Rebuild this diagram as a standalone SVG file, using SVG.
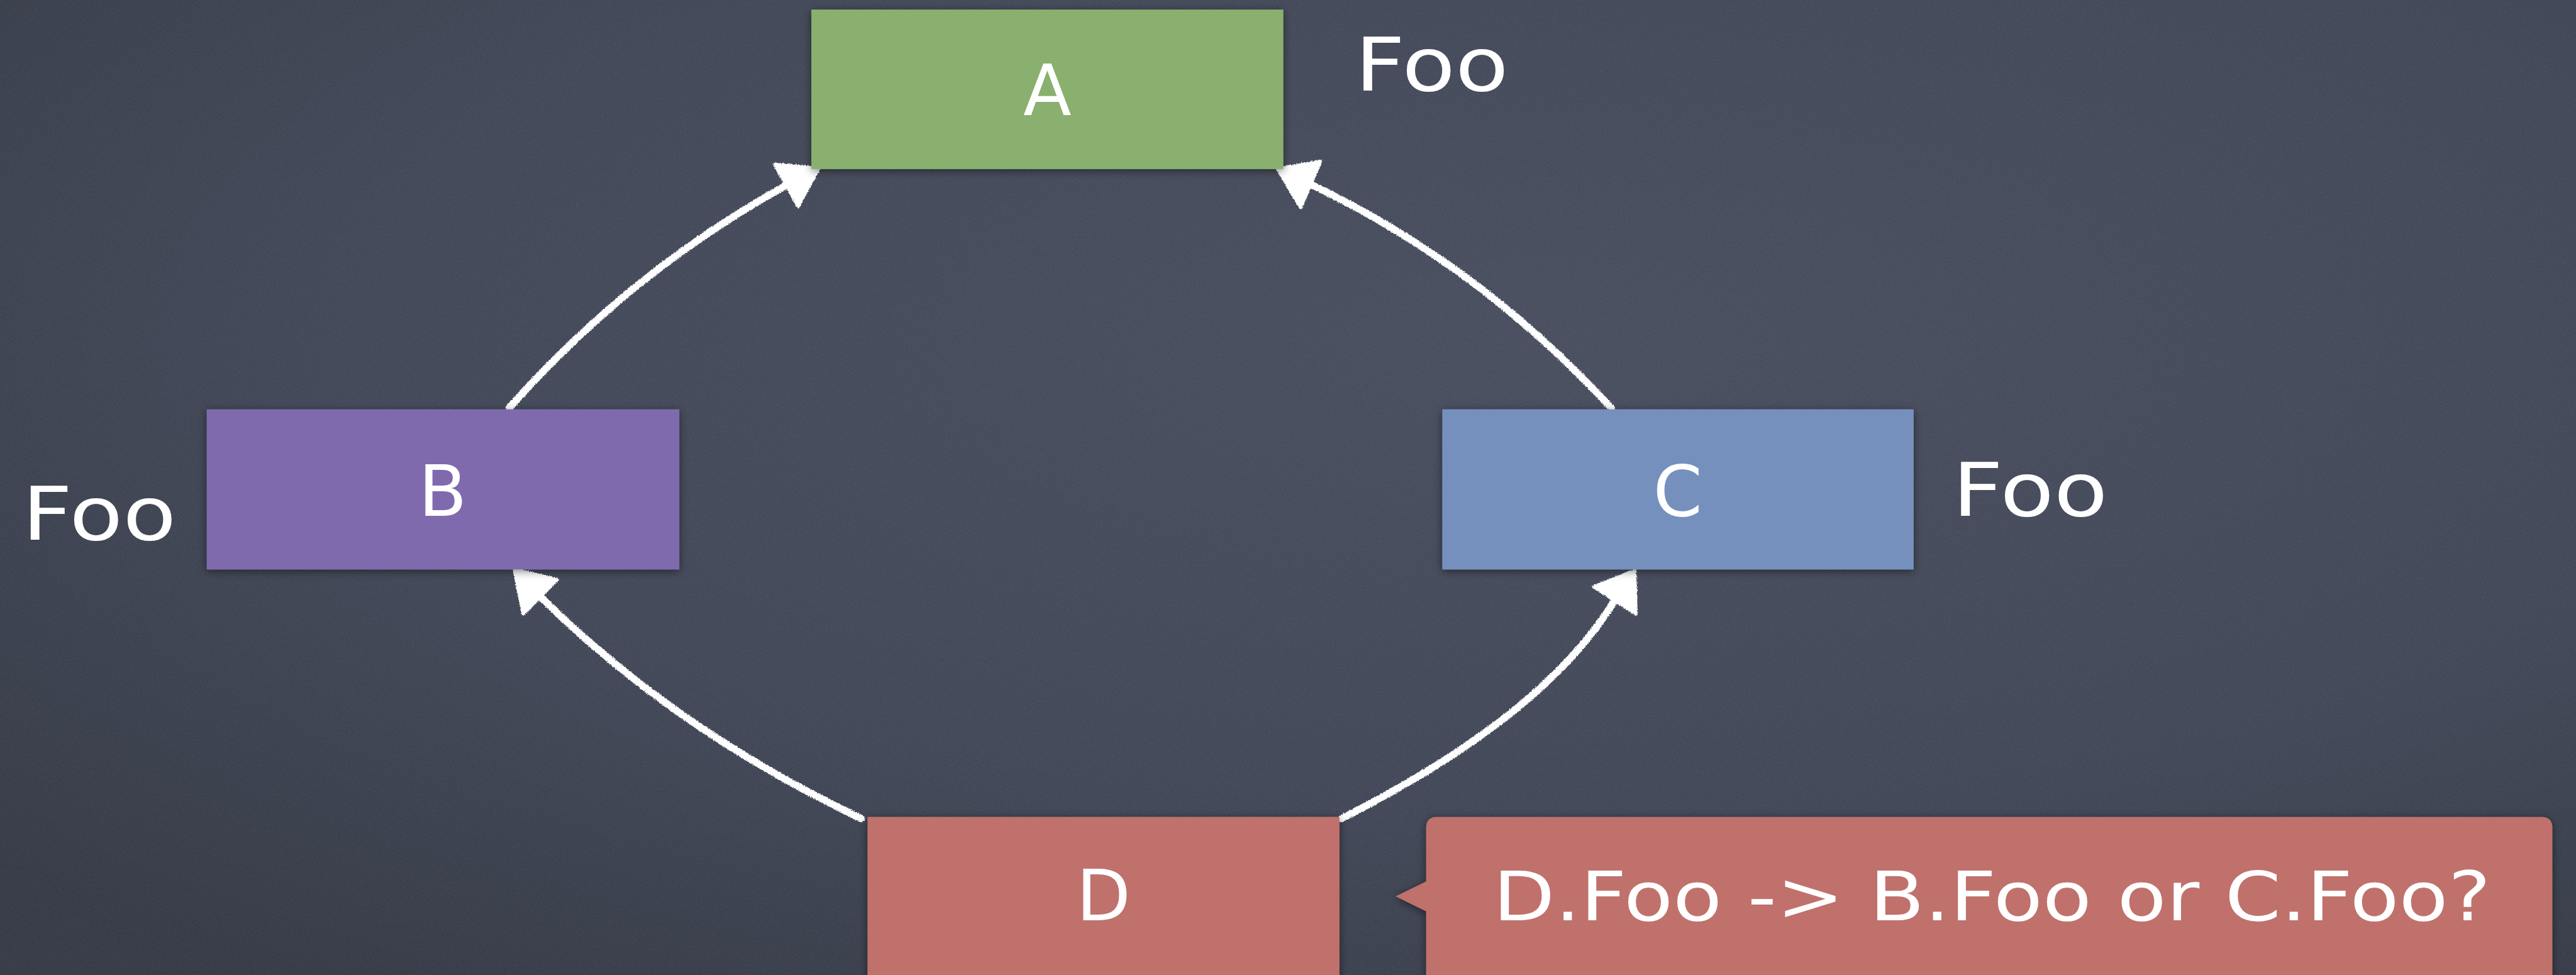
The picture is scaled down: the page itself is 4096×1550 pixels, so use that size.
<svg xmlns="http://www.w3.org/2000/svg" width="4096" height="1550" viewBox="0 0 4096 1550">
<defs>
<radialGradient id="board" cx="0.6" cy="0.35" r="0.8">
<stop offset="0" stop-color="#464c5d"/>
<stop offset="0.6" stop-color="#3f4555"/>
<stop offset="1" stop-color="#333844"/>
</radialGradient>
<filter id="noise" x="0" y="0" width="100%" height="100%">
<feTurbulence type="fractalNoise" baseFrequency="0.7" numOctaves="2" seed="3"/>
<feColorMatrix type="matrix" values="0 0 0 0 1  0 0 0 0 1  0 0 0 0 1  0.14 0 0 0 -0.04"/>
</filter>
<filter id="shadow" x="-5%" y="-10%" width="110%" height="125%">
<feDropShadow dx="0" dy="3" stdDeviation="7" flood-color="#000" flood-opacity="0.5"/>
</filter>
<filter id="chalk" x="-5%" y="-5%" width="110%" height="110%">
<feTurbulence type="fractalNoise" baseFrequency="0.5" numOctaves="2" seed="7" result="n"/>
<feDisplacementMap in="SourceGraphic" in2="n" scale="5" xChannelSelector="R" yChannelSelector="G"/>
</filter>
</defs>
<style>
.box{filter:url(#shadow)}
.lbl{font-family:"DejaVu Sans","Liberation Sans",sans-serif;fill:#ffffff;font-size:118px;text-anchor:middle}
.foo{font-family:"DejaVu Sans","Liberation Sans",sans-serif;fill:#ffffff;font-size:123px}
.conn path{fill:none;stroke:#ffffff;stroke-width:12;stroke-linecap:round}
.conn polygon{fill:#ffffff;stroke:#ffffff;stroke-width:6;stroke-linejoin:round}
</style>
<rect x="0" y="0" width="4096" height="1550" fill="url(#board)"/>
<rect x="0" y="0" width="4096" height="1550" filter="url(#noise)"/>
<g transform="scale(0.95)">
<g id="connectors" class="conn" filter="url(#chalk)">
<path d="M852,683 Q1052,457 1316,310"/>
<polygon points="1370,282 1297,275 1336,345"/>
<path d="M2697,683 Q2477,444 2193,308"/>
<polygon points="2139,283 2210,270 2177,347"/>
<path d="M1442,1370 Q1131,1222 904,998"/>
<polygon points="861,953 932,970 876,1027"/>
<path d="M2245,1370 Q2585,1198 2703,1004"/>
<polygon points="2736,955 2668,982 2738,1027"/>
</g>
<g id="nodeA">
<rect class="box" x="1358" y="16" width="790" height="267" fill="#89b06e"/>
<text class="lbl" x="1753" y="193">A</text>
</g>
<g id="fooA">
<text class="foo" x="2268" y="152" textLength="257" lengthAdjust="spacingAndGlyphs">Foo</text>
</g>
<g id="nodeB">
<rect class="box" x="346" y="685" width="791" height="268" fill="#7f6aae"/>
<text class="lbl" x="741" y="863">B</text>
</g>
<g id="fooB">
<text class="foo" x="37" y="903" textLength="258" lengthAdjust="spacingAndGlyphs">Foo</text>
</g>
<g id="nodeC">
<rect class="box" x="2414" y="685" width="789" height="268" fill="#7690be"/>
<text class="lbl" x="2808" y="863">C</text>
</g>
<g id="fooC">
<text class="foo" x="3268" y="863" textLength="260" lengthAdjust="spacingAndGlyphs">Foo</text>
</g>
<g id="nodeD">
<rect class="box" x="1452" y="1367" width="790" height="320" fill="#c0716c"/>
<text class="lbl" x="1847" y="1540">D</text>
</g>
<g id="callout">
<path class="box" d="M2405,1367 H4254 Q4272,1367 4272,1385 V1700 H2387 V1525 L2336,1500 L2387,1475 V1385 Q2387,1367 2405,1367 Z" fill="#c0716c"/>
<text x="2499" y="1540" font-family="DejaVu Sans, Liberation Sans, sans-serif" font-size="115" fill="#ffffff" textLength="1670" lengthAdjust="spacingAndGlyphs">D.Foo -&gt; B.Foo or C.Foo?</text>
</g>
</g>
</svg>
